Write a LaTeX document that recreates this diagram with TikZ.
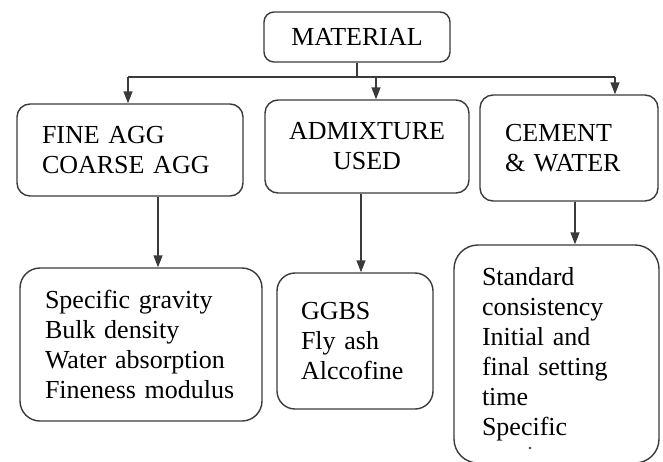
\documentclass[tikz,border=0pt]{standalone}
\usepackage{fontspec}
\setmainfont{Liberation Serif}
\usetikzlibrary{arrows.meta}
\definecolor{ink}{HTML}{3A3A3A}
\tikzset{
  boxnode/.style={draw=ink, line width=1.4pt, text=black, inner ysep=0pt,
    font=\fontsize{26}{30}\selectfont},
  conn/.style={draw=ink, line width=1.4pt},
  arr/.style={conn, -{Triangle[length=12pt,width=9pt]}}
}
\begin{document}
\begin{tikzpicture}[x=1pt,y=-1pt]
\useasboundingbox (0,0) rectangle (663,461);
\clip (0,0) rectangle (663,461);
% top
\node[boxnode, rounded corners=10pt, minimum width=186pt, minimum height=50pt,
  text width=166pt, inner xsep=10pt, align=center] (mat) at (357,37) {MATERIAL};
% middle row
\node[boxnode, rounded corners=13pt, minimum height=92pt, text width=176pt,
  inner xsep=25pt, align=left] (fine) at (130,150) {FINE AGG\\COARSE AGG};
\node[boxnode, rounded corners=13pt, minimum height=93pt, text width=184pt,
  inner xsep=10pt, align=center] (adm) at (367,146.5) {ADMIXTURE\\USED};
\node[boxnode, rounded corners=13pt, minimum height=106pt, text width=128pt,
  inner xsep=25pt, align=left] (cem) at (569,148) {CEMENT\\\& WATER};
% bottom row
\node[boxnode, rounded corners=20pt, minimum height=153pt, text width=192pt,
  inner xsep=25pt, align=left] (b1) at (141,344.5)
  {Specific gravity\\Bulk density\\Water absorption\\Fineness modulus};
\node[boxnode, rounded corners=18pt, minimum height=136pt, text width=108pt,
  inner xsep=24pt, align=left] (b2) at (355,341) {GGBS\\Fly ash\\Alccofine};
\node[boxnode, rounded corners=24pt, minimum height=218pt, text width=149pt,
  inner xsep=28pt, align=left] (b3) at (556.5,354)
  {Standard\\consistency\\Initial and\\final setting\\time\\Specific};
\fill[ink] (530,448) circle (1.3);
% connectors
\coordinate (bl) at (128,77);
\coordinate (bm) at (376,77);
\coordinate (br) at (615,77);
\draw[conn] (mat.south) -- (mat.south |- bl);
\draw[conn] (bl) -- (br);
\draw[arr] (bl) -- (bl |- fine.north);
\draw[arr] (bm) -- (bm |- adm.north);
\draw[arr] (br) -- (br |- cem.north);
\draw[arr] ([xshift=28pt]fine.south) -- ([xshift=28pt]fine.south |- b1.north);
\draw[arr] ([xshift=-6pt]adm.south) -- ([xshift=-6pt]adm.south |- b2.north);
\draw[arr] ([xshift=6pt]cem.south) -- ([xshift=6pt]cem.south |- b3.north);
\end{tikzpicture}
\end{document}
